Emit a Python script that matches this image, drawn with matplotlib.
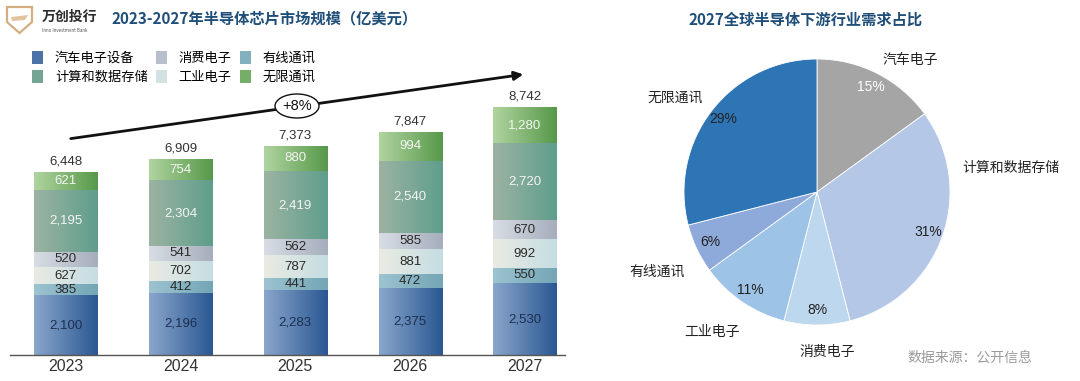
import numpy as np
import matplotlib
matplotlib.use("Agg")
import matplotlib.pyplot as plt
from matplotlib.colors import LinearSegmentedColormap, to_rgb
from matplotlib.patches import Patch, Ellipse, Polygon, FancyArrowPatch

plt.rcParams['font.family'] = ['Noto Sans CJK SC', 'DejaVu Sans']
NUMFONT = ['Liberation Sans', 'DejaVu Sans']

years = ['2023', '2024', '2025', '2026', '2027']
# stacked from the bottom up
series = ['汽车电子设备', '有线通讯', '工业电子', '消费电子', '计算和数据存储', '无限通讯']
auto_vals = [2100, 2196, 2283, 2375, 2530]
wired_vals = [385, 412, 441, 472, 550]
indus_vals = [627, 702, 787, 881, 992]
consumer_vals = [520, 541, 562, 585, 670]
compute_vals = [2195, 2304, 2419, 2540, 2720]
wireless_vals = [621, 754, 880, 994, 1280]
totals = [6448, 6909, 7373, 7847, 8742]
growth = '+8%'

pie_labels = ['汽车电子', '计算和数据存储', '消费电子', '工业电子', '有线通讯', '无限通讯']
pie_vals = [15, 31, 8, 11, 6, 29]

bar_grad = {
    '汽车电子设备': ('#8aa6cb', '#2a5893'),
    '有线通讯': ('#9cc3d0', '#74a6b6'),
    '工业电子': ('#e9ebe2', '#c5dde2'),
    '消费电子': ('#d8dde4', '#a6aebd'),
    '计算和数据存储': ('#9cb3a2', '#5f9e8c'),
    '无限通讯': ('#b0d49f', '#57994a'),
}
text_col = {
    '汽车电子设备': '#1d3050', '有线通讯': '#2a2a2a', '工业电子': '#2a2a2a',
    '消费电子': '#2a2a2a', '计算和数据存储': '#f4f4f4', '无限通讯': '#f4f4f4',
}
pie_colors = ['#a5a5a5', '#b4c7e7', '#bdd7ee', '#9dc3e6', '#8eaadb', '#2e75b6']
pie_txt = ['white', '#222222', '#222222', '#222222', '#222222', '#222222']
# label anchor offsets in pie radius units
pie_lab_pos = [(0.70, 0.99), (1.46, 0.18), (0.08, -1.20), (-0.79, -1.05),
               (-1.20, -0.60), (-1.07, 0.71)]

W, H = 1080, 381
fig = plt.figure(figsize=(W / 100, H / 100), dpi=100)


def fpos(px, py):
    # pixel position (from top-left) -> figure fraction
    return px / W, 1 - py / H


# ---------------- stacked bars ----------------
ax = fig.add_axes([10 / W, 26 / H, 555 / W, 315 / H])
x = np.arange(len(years))
bw = 0.55
values = [auto_vals, wired_vals, indus_vals, consumer_vals, compute_vals, wireless_vals]
bottom = np.zeros(len(years))
grad = np.linspace(0, 1, 64).reshape(1, -1)
for name, vals in zip(series, values):
    vals = np.array(vals, dtype=float)
    bars = ax.bar(x, vals, bw, bottom=bottom, color='none', edgecolor='none')
    cmap = LinearSegmentedColormap.from_list(name, bar_grad[name])
    for b, v, y0 in zip(bars, vals, bottom):
        x0 = b.get_x()
        im = ax.imshow(grad, cmap=cmap, aspect='auto', interpolation='bilinear',
                       extent=(x0, x0 + bw, y0, y0 + v), zorder=1)
        im.set_clip_path(b)
        ax.text(x0 + bw / 2, y0 + v / 2, f'{int(v):,}', ha='center', va='center',
                fontsize=9.5, color=text_col[name], family=NUMFONT, zorder=3)
    bottom += vals

for xi, t in zip(x, totals):
    ax.text(xi, t + 160, f'{t:,}', ha='center', va='bottom', fontsize=9.5, color='#333333',
            family=NUMFONT)

ax.set_xlim(-0.487, 4.35)
ax.set_ylim(0, 11103)
for s in ['top', 'right', 'left']:
    ax.spines[s].set_visible(False)
ax.spines['bottom'].set_color('#555555')
ax.spines['bottom'].set_linewidth(1.0)
ax.set_yticks([])
ax.set_xticks(x)
ax.set_xticklabels(years, fontsize=11.5, color='#333333', family=NUMFONT)
ax.tick_params(axis='x', length=0, pad=3)

# legend (column-major so rows read as in the original)
order = [0, 4, 3, 2, 1, 5]
handles = []
for i in order:
    c0, c1 = bar_grad[series[i]]
    mix = 0.35 * np.array(to_rgb(c0)) + 0.65 * np.array(to_rgb(c1))
    handles.append(Patch(facecolor=mix, edgecolor='none'))
fig.legend(handles, [series[i] for i in order], ncol=3, frameon=False,
           loc='upper left', bbox_to_anchor=fpos(20, 39), fontsize=9.5,
           handlelength=0.85, handleheight=1.2, handletextpad=0.9, columnspacing=0.6,
           labelspacing=0.35)

# growth arrow
fig.add_artist(FancyArrowPatch(fpos(68, 139), fpos(526, 74), transform=fig.transFigure,
                               arrowstyle='-|>', mutation_scale=13, lw=2.0, color='#111111'))
fig.add_artist(Ellipse(fpos(297, 106), 44 / W, 24 / H, transform=fig.transFigure,
                       facecolor='white', edgecolor='#111111', lw=1.0))
fig.text(*fpos(297, 106), growth, ha='center', va='center', fontsize=10.5,
         color='#111111', family=NUMFONT)

# titles and logo
shield = Polygon([fpos(7, 7), fpos(32, 7), fpos(32, 22), fpos(19.5, 33), fpos(7, 22)],
                 closed=True, transform=fig.transFigure, fill=False,
                 edgecolor='#d4ae82', lw=1.6)
fig.add_artist(shield)
fig.add_artist(Polygon([fpos(11, 17), fpos(28, 15), fpos(25, 20), fpos(12, 21)], closed=True,
                       transform=fig.transFigure, facecolor='#e2c39e', edgecolor='none'))
fig.text(*fpos(42, 17), '万创投行', ha='left', va='center', fontsize=10,
         weight='bold', color='#2b2b2b')
fig.text(*fpos(42, 30), 'Inno Investment Bank', ha='left', va='center', fontsize=3.2,
         color='#555555')
fig.text(*fpos(112, 18), '2023-2027年半导体芯片市场规模（亿美元）', ha='left',
         va='center', fontsize=11, weight='bold', color='#1f4e79')
fig.text(*fpos(806, 20), '2027全球半导体下游行业需求占比', ha='center', va='center',
         fontsize=11, weight='bold', color='#1f4e79')

# ---------------- pie ----------------
R = 133
pax = fig.add_axes([(817 - R) / W, (H - 192 - R) / H, 2 * R / W, 2 * R / H])
wedges, _, autotexts = pax.pie(pie_vals, colors=pie_colors, startangle=90, counterclock=False,
                               autopct='%d%%', pctdistance=0.89,
                               wedgeprops=dict(edgecolor='white', linewidth=0.6))
for at, c in zip(autotexts, pie_txt):
    at.set_color(c)
    at.set_fontsize(10)
    at.set_family(NUMFONT)
for lab, (px, py) in zip(pie_labels, pie_lab_pos):
    pax.text(px, py, lab, ha='center', va='center', fontsize=10, color='#222222')
pax.set_xlim(-1, 1)
pax.set_ylim(-1, 1)
pax.set_aspect('equal')
pax.axis('off')

fig.text(*fpos(970, 358), '数据来源：公开信息', ha='center', va='center', fontsize=10,
         color='#9a9a9a')

fig.savefig('out.png', dpi=100)
